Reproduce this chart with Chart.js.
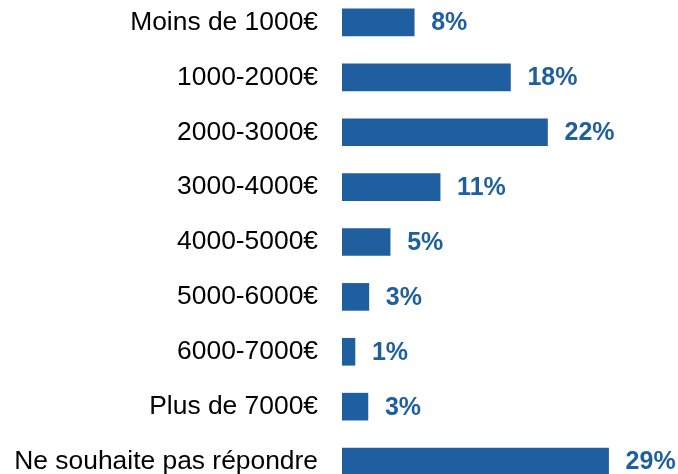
<!DOCTYPE html>
<html>
<head>
<meta charset="utf-8">
<script src="https://cdn.jsdelivr.net/npm/chart.js@4.4.0/dist/chart.umd.min.js"></script>
<style>
  html, body { margin: 0; padding: 0; background: #fff; overflow: hidden; width: 678px; height: 474px; }
  #wrap { position: absolute; left: 0; top: -5px; width: 678px; height: 494px; }
</style>
</head>
<body>
<div id="wrap"><canvas id="chart"></canvas></div>
<script>
// Categories and bar lengths (% of respondents)
const categories = [
    'Moins de 1000€',
    '1000-2000€',
    '2000-3000€',
    '3000-4000€',
    '4000-5000€',
    '5000-6000€',
    '6000-7000€',
    'Plus de 7000€',
    'Ne souhaite pas répondre'
];
const shares = [7.8, 18.2, 22.2, 10.6, 5.2, 2.9, 1.4, 2.8, 28.8];
const shareLabels = ['8%', '18%', '22%', '11%', '5%', '3%', '1%', '3%', '29%'];

const blue = '#1f5f9f';

// draws the percentage next to the end of each bar
const valueLabels = {
    id: 'valueLabels',
    afterDatasetsDraw(chart) {
        const ctx = chart.ctx;
        const meta = chart.getDatasetMeta(0);
        ctx.save();
        ctx.font = "bold 25px 'Liberation Sans', Arial, sans-serif";
        ctx.fillStyle = blue;
        ctx.textAlign = 'left';
        ctx.textBaseline = 'middle';
        meta.data.forEach((bar, i) => {
            ctx.fillText(shareLabels[i], bar.x + 17, bar.y + 1);
        });
        ctx.restore();
    }
};

new Chart(document.getElementById('chart'), {
    type: 'bar',
    data: {
        labels: categories,
        datasets: [{
            data: shares,
            backgroundColor: blue,
            barThickness: 27
        }]
    },
    options: {
        indexAxis: 'y',
        responsive: true,
        maintainAspectRatio: false,
        animation: false,
        layout: { padding: 0 },
        plugins: {
            legend: { display: false },
            tooltip: { enabled: false }
        },
        scales: {
            x: {
                display: false,
                min: 0,
                max: 36.3
            },
            y: {
                grid: { display: false, drawTicks: false },
                border: { display: false },
                ticks: {
                    color: '#000',
                    padding: 24,
                    font: { family: "'Liberation Sans', Arial, sans-serif", size: 26.4 }
                },
                afterFit(scale) {
                    scale.width = 342;
                    scale.paddingTop = 0;
                    scale.paddingBottom = 0;
                }
            }
        }
    },
    plugins: [valueLabels]
});
</script>
</body>
</html>
